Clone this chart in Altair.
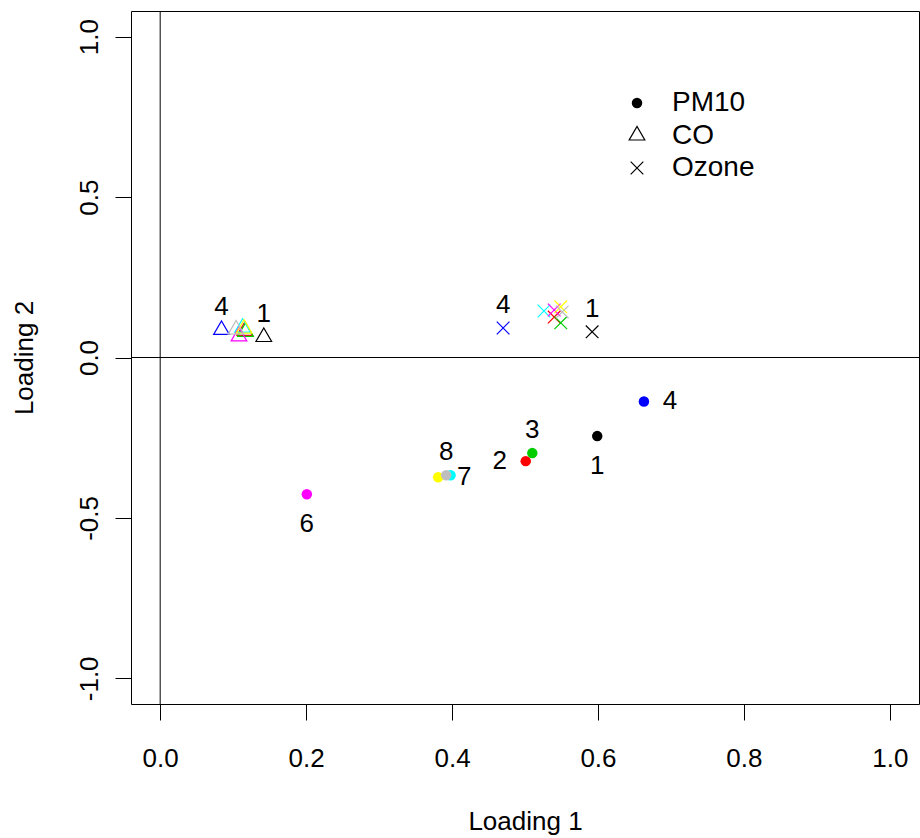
import altair as alt
import pandas as pd

# ---- data ----
groups = [1, 2, 3, 4, 5, 6, 7, 8]
palette = ["#000000", "#FF0000", "#00CD00", "#0000FF", "#00FFFF", "#FF00FF", "#FFFF00", "#BEBEBE"]

pm10_x = [0.599, 0.501, 0.510, 0.663, 0.398, 0.201, 0.381, 0.392]
pm10_y = [-0.245, -0.323, -0.298, -0.137, -0.367, -0.426, -0.373, -0.367]
co_x = [0.142, 0.116, 0.117, 0.084, 0.113, 0.108, 0.115, 0.104]
co_y = [0.064, 0.083, 0.080, 0.086, 0.093, 0.066, 0.090, 0.087]
oz_x = [0.592, 0.540, 0.549, 0.470, 0.526, 0.540, 0.549, 0.551]
oz_y = [0.080, 0.126, 0.108, 0.092, 0.145, 0.148, 0.158, 0.142]

label_series = ["PM10"] * 7 + ["CO"] * 2 + ["Ozone"] * 2
label_group = [1, 2, 3, 4, 6, 7, 8, 4, 1, 4, 1]
label_side = ["below", "left", "above", "right", "below", "right", "above",
              "above", "above", "above", "above"]

x_ticks = [0.0, 0.2, 0.4, 0.6, 0.8, 1.0]
y_ticks = [-1.0, -0.5, 0.0, 0.5, 1.0]
legend_names = ["PM10", "CO", "Ozone"]

FONT = "Liberation Sans"
FS = 26

# ---- build tables ----
rows = []
for name, xs, ys in [("PM10", pm10_x, pm10_y), ("CO", co_x, co_y), ("Ozone", oz_x, oz_y)]:
    for g, xv, yv in zip(groups, xs, ys):
        rows.append({"series": name, "group": g, "x": xv, "y": yv})
pts = pd.DataFrame(rows)

lab_rows = []
for s, g, side in zip(label_series, label_group, label_side):
    r = pts[(pts.series == s) & (pts.group == g)].iloc[0]
    lab_rows.append({"series": s, "group": g, "side": side, "x": r.x, "y": r.y, "text": str(g)})
labs = pd.DataFrame(lab_rows)

xscale = alt.Scale(domain=[-0.04, 1.04], nice=False, zero=False)
yscale = alt.Scale(domain=[-1.08, 1.08], nice=False, zero=False)
cscale = alt.Scale(domain=groups, range=palette)

neg_fmt = "datum.value < 0 ? '-' + format(-datum.value, '.1f') : format(datum.value, '.1f')"

xaxis = alt.Axis(values=x_ticks, labelExpr=neg_fmt, grid=False, domain=False,
                 tickSize=16, tickColor="black", labelPadding=25, labelBaseline="top",
                 labelFont=FONT, labelFontSize=FS, labelColor="black",
                 title="Loading 1", titleFont=FONT, titleFontSize=FS, titleFontWeight="normal",
                 titleColor="black", titleBaseline="alphabetic", titleY=125)
yaxis = alt.Axis(values=y_ticks, labelExpr=neg_fmt, grid=False, domain=False,
                 tickSize=16, tickColor="black", labelPadding=18, labelAngle=270,
                 labelAlign="center", labelBaseline="alphabetic",
                 labelFont=FONT, labelFontSize=FS, labelColor="black",
                 title="Loading 2", titleFont=FONT, titleFontSize=FS, titleFontWeight="normal",
                 titleColor="black", titleAngle=270, titleBaseline="alphabetic",
                 titleX=-99, titleY=346.5, titleAlign="center")

base = alt.Chart(pts).encode(
    x=alt.X("x:Q", scale=xscale, axis=xaxis),
    y=alt.Y("y:Q", scale=yscale, axis=yaxis),
    color=alt.Color("group:O", scale=cscale, legend=None),
)

zero = pd.DataFrame({"v": [0.0]})
vrule = alt.Chart(zero).mark_rule(color="black", strokeWidth=1).encode(x=alt.X("v:Q", scale=xscale))
hrule = alt.Chart(zero).mark_rule(color="black", strokeWidth=1).encode(y=alt.Y("v:Q", scale=yscale))

TRI = "M-1,0.577L1,0.577L0,-1.155Z"
XMARK = "M-1,-1L1,1M1,-1L-1,1"

pm10 = base.transform_filter("datum.series == 'PM10'").mark_point(
    shape="circle", filled=True, size=110, opacity=1)
co = base.transform_filter("datum.series == 'CO'").mark_point(
    shape=TRI, filled=False, size=245, strokeWidth=1.2, opacity=1)
oz = base.transform_filter("datum.series == 'Ozone'").mark_point(
    shape=XMARK, filled=False, size=160, strokeWidth=1.2, opacity=1)

offsets = {"above": (0, -23), "below": (0, 30), "left": (-26, 0), "right": (26, 0)}
label_layers = []
for side, (dx, dy) in offsets.items():
    label_layers.append(
        alt.Chart(labs).transform_filter(f"datum.side == '{side}'").mark_text(
            font=FONT, fontSize=FS, color="black", dx=dx, dy=dy,
            align="center", baseline="middle").encode(
            x=alt.X("x:Q", scale=xscale), y=alt.Y("y:Q", scale=yscale), text="text:N")
    )

# ---- legend (drawn inside the plot, top right) ----
leg = pd.DataFrame({"name": legend_names})
leg_sym_x = 506
leg_y0, leg_dy = 92, 32.5
leg_pm = alt.Chart(leg).transform_filter("datum.name == 'PM10'").mark_point(
    shape="circle", filled=True, size=110, color="black", opacity=1).encode(
    x=alt.value(leg_sym_x), y=alt.value(leg_y0))
leg_co = alt.Chart(leg).transform_filter("datum.name == 'CO'").mark_point(
    shape=TRI, filled=False, size=245, strokeWidth=1.2, color="black", opacity=1).encode(
    x=alt.value(leg_sym_x), y=alt.value(leg_y0 + leg_dy))
leg_oz = alt.Chart(leg).transform_filter("datum.name == 'Ozone'").mark_point(
    shape=XMARK, filled=False, size=160, strokeWidth=1.2, color="black", opacity=1).encode(
    x=alt.value(leg_sym_x), y=alt.value(leg_y0 + 2 * leg_dy))
leg_txt = alt.Chart(leg).transform_window(idx="row_number()").transform_calculate(
    ypix=f"{leg_y0} + (datum.idx - 1) * {leg_dy}").mark_text(
    font=FONT, fontSize=28, color="black", align="left", baseline="middle").encode(
    x=alt.value(541), y=alt.Y("ypix:Q", scale=None), text="name:N")

chart = alt.layer(
    vrule, hrule, pm10, co, oz, *label_layers, leg_pm, leg_co, leg_oz, leg_txt
).properties(
    width=788, height=693,
    autosize=alt.AutoSizeParams(type="none"),
    padding={"left": 131, "top": 11, "right": 1, "bottom": 134},
    background="white",
).configure_view(stroke="black", strokeWidth=1)

chart.save("out.html", embed_options={"renderer": "svg", "actions": False})
